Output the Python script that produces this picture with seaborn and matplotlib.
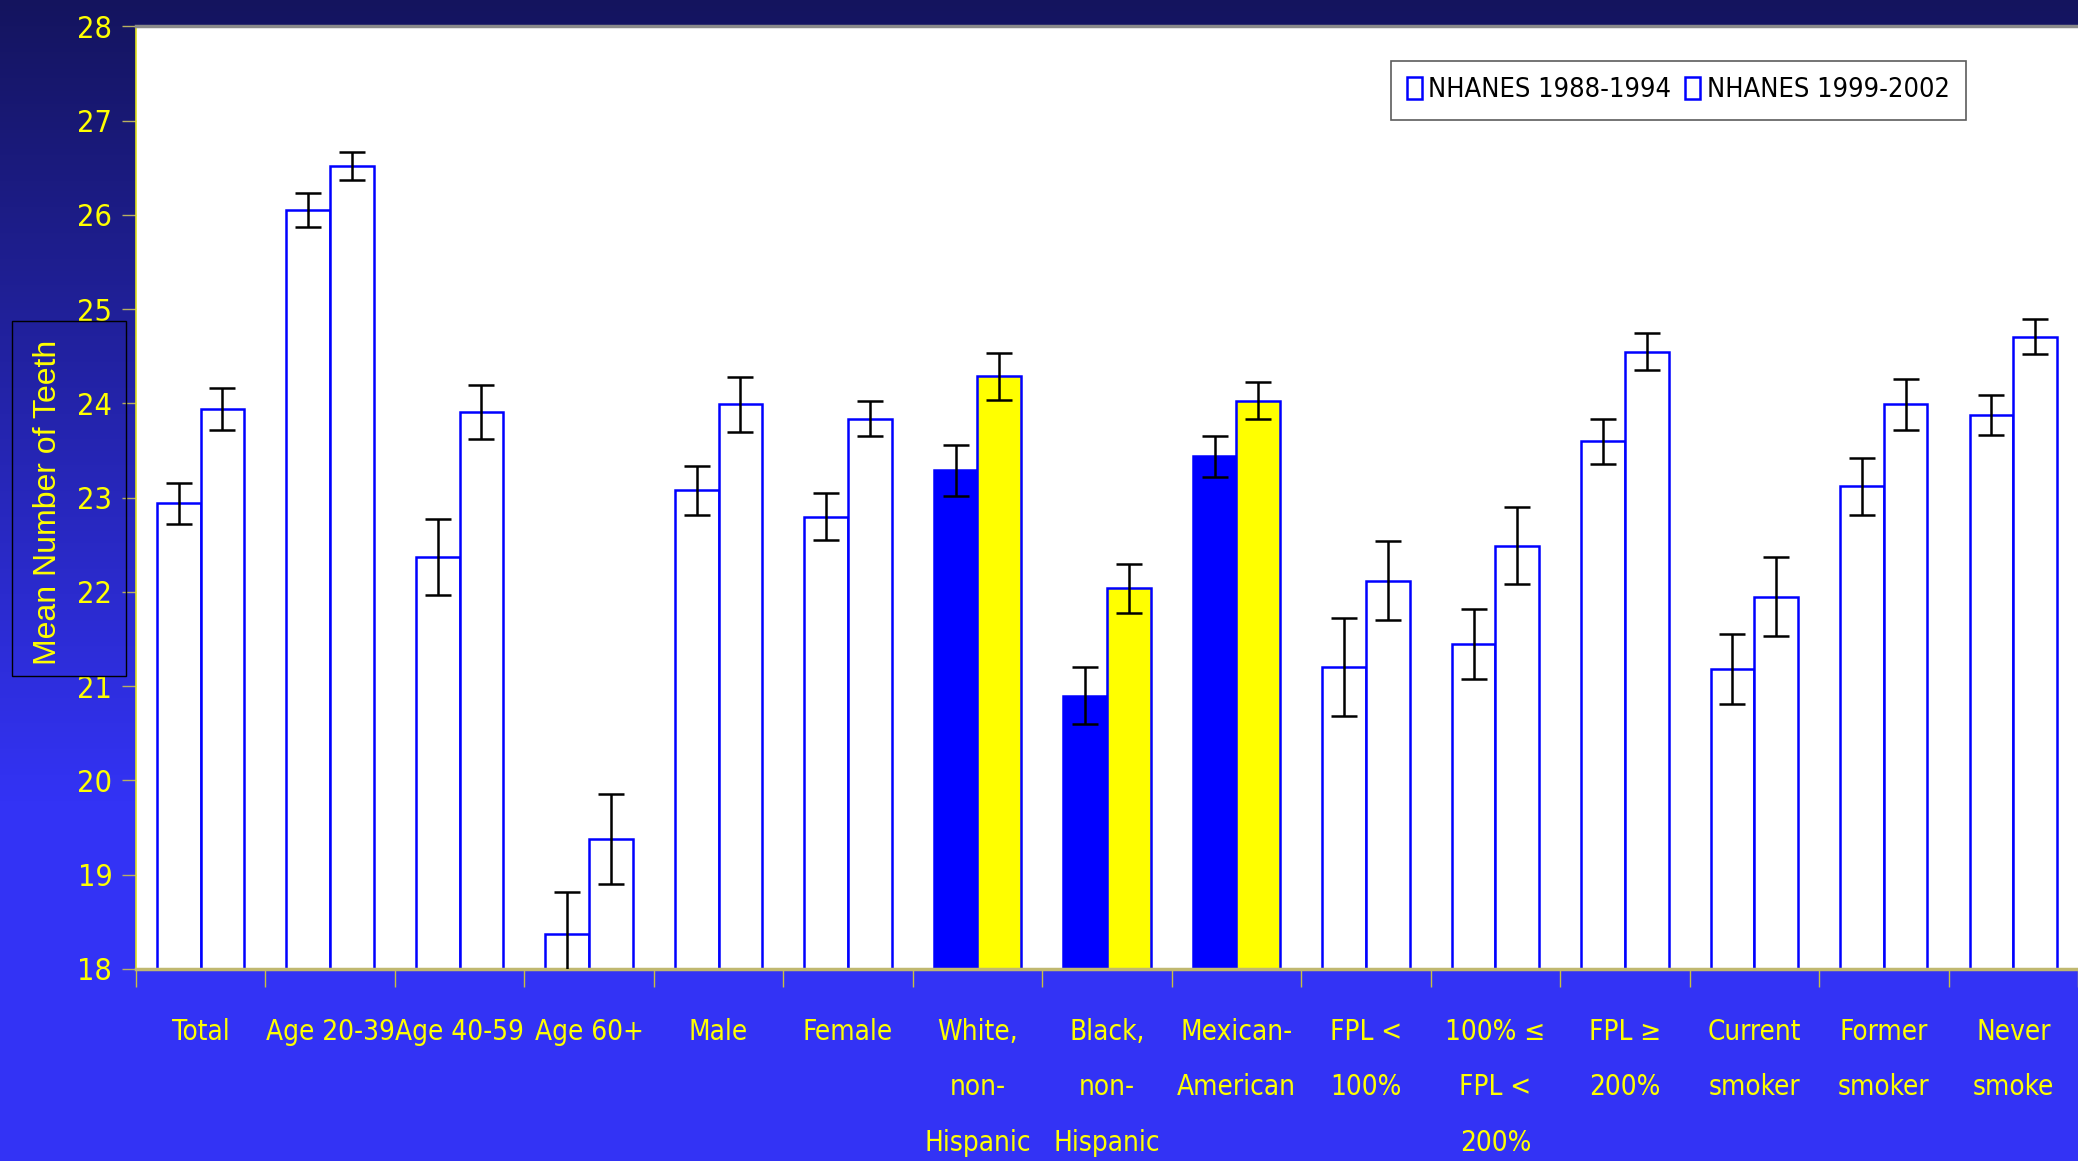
import numpy as np
import pandas as pd
import matplotlib
matplotlib.use("Agg")
import matplotlib.pyplot as plt
import matplotlib.font_manager as fm
from matplotlib.patches import Patch, Rectangle
import seaborn as sns

# data
groups = ['Total', 'Age 20-39', 'Age 40-59', 'Age 60+', 'Male', 'Female',
          'White, non-Hispanic', 'Black, non-Hispanic', 'Mexican-American',
          'FPL < 100%', '100% ≤ FPL < 200%', 'FPL ≥ 200%',
          'Current smoker', 'Former smoker', 'Never smoke']
tick_labels = ['Total', 'Age 20-39', 'Age 40-59', 'Age 60+', 'Male', 'Female',
               'White,\nnon-\nHispanic', 'Black,\nnon-\nHispanic', 'Mexican-\nAmerican',
               'FPL <\n100%', '100% ≤\nFPL <\n200%', 'FPL ≥\n200%',
               'Current\nsmoker', 'Former\nsmoker', 'Never\nsmoke']
teeth_8894 = [22.94, 26.05, 22.37, 18.37, 23.08, 22.80, 23.29, 20.90, 23.44,
              21.20, 21.45, 23.60, 21.18, 23.12, 23.88]
err_8894 = [0.22, 0.18, 0.40, 0.45, 0.26, 0.25, 0.27, 0.30, 0.22,
            0.52, 0.37, 0.24, 0.37, 0.30, 0.21]
teeth_9902 = [23.94, 26.52, 23.91, 19.38, 23.99, 23.84, 24.29, 22.04, 24.03,
              22.12, 22.49, 24.55, 21.95, 23.99, 24.71]
err_9902 = [0.22, 0.15, 0.29, 0.48, 0.29, 0.19, 0.25, 0.26, 0.20,
            0.42, 0.41, 0.20, 0.42, 0.27, 0.19]
surveys = ['NHANES 1988-1994', 'NHANES 1999-2002']
highlight = ['White, non-Hispanic', 'Black, non-Hispanic', 'Mexican-American']

df = pd.DataFrame({
    'group': groups * 2,
    'teeth': teeth_8894 + teeth_9902,
    'survey': [surveys[0]] * len(groups) + [surveys[1]] * len(groups),
})

# look for a narrow sans face, else shrink the regular one
narrow = None
for f in fm.fontManager.ttflist:
    if ('Narrow' in f.name or 'Condensed' in f.name or 'condensed' in str(f.stretch)) \
            and f.style == 'normal' and f.weight in (400, 'normal', 'regular'):
        narrow = f
        break
if narrow is not None:
    fam = narrow.name
    stretch = narrow.stretch
    fs_x, fs_y, fs_leg, lsp = 20, 22, 19.5, 2.25
else:
    fam = 'Liberation Sans'
    stretch = 'normal'
    fs_x, fs_y, fs_leg, lsp = 19.5, 22, 19.5, 2.4
plt.rcParams['font.family'] = [fam, 'DejaVu Sans']
plt.rcParams['font.stretch'] = stretch

fig = plt.figure(figsize=(20.78, 11.61), dpi=100)

# gradient background
bg = fig.add_axes([0, 0, 1, 1], zorder=-1)
top = np.array([0x14, 0x14, 0x5e]) / 255
bot = np.array([0x33, 0x33, 0xf5]) / 255
t = np.clip(np.linspace(0, 1, 1161) / 0.69, 0, 1)[:, None]
grad = (top * (1 - t) + bot * t)[:, None, :]
bg.imshow(grad, aspect='auto', extent=[0, 1, 0, 1])
bg.axis('off')

ax = fig.add_axes([0.0654, 0.1654, 0.9346, 0.8118])
ax.set_facecolor('white')

sns.barplot(data=df, x='group', y='teeth', hue='survey', order=groups,
            hue_order=surveys, errorbar=None, width=0.675, ax=ax,
            edgecolor='blue', linewidth=1.8, legend=False)

errs = [err_8894, err_9902]
fills = ['blue', 'yellow']
bar_sets = list(ax.containers[:2])
for k, cont in enumerate(bar_sets):
    xs, ys = [], []
    for i, bar in enumerate(cont):
        bar.set_facecolor(fills[k] if groups[i] in highlight else 'white')
        bar.set_edgecolor('blue')
        xs.append(bar.get_x() + bar.get_width() / 2)
        ys.append(bar.get_height())
    ax.errorbar(xs, ys, yerr=errs[k], fmt='none', ecolor='black',
                elinewidth=1.8, capsize=9.5, capthick=1.8, zorder=4)

ax.set_ylim(18, 28)
ax.set_xlim(-0.5, len(groups) - 0.5)
ax.set_yticks(range(18, 29))
ax.set_xticks(np.arange(-0.5, len(groups), 1))
ax.set_xticklabels([])
ax.set_xticks(np.arange(len(groups)), tick_labels, minor=True)
ax.tick_params(axis='x', which='major', length=13, width=1, color='#c8c040', direction='out')
ax.tick_params(axis='x', which='minor', length=0, pad=35, labelsize=fs_x,
               labelcolor='yellow')
ax.tick_params(axis='y', length=10, width=1, color='#b8b060', pad=7,
               labelsize=fs_y, labelcolor='yellow')
for lab in ax.get_xticklabels(minor=True):
    lab.set_linespacing(lsp)
ax.set_xlabel('')
ax.set_ylabel('')

ax.spines['right'].set_visible(False)
ax.spines['top'].set_color('#8a8a8a')
ax.spines['top'].set_linewidth(2.5)
ax.spines['left'].set_color('#e0e020')
ax.spines['left'].set_linewidth(1.2)
ax.spines['bottom'].set_color('#c0b870')
ax.spines['bottom'].set_linewidth(2.5)

handles = [Patch(facecolor='white', edgecolor='blue', linewidth=1.8, label=s) for s in surveys]
leg = ax.legend(handles=handles, ncol=2, loc='upper right',
                bbox_to_anchor=(0.9423, 0.9634), fontsize=fs_leg, frameon=True,
                fancybox=False, handlelength=0.55, handleheight=0.85,
                handletextpad=0.25, columnspacing=0.5, borderpad=0.6,
                borderaxespad=0)
leg.get_frame().set_edgecolor('#333333')
leg.get_frame().set_linewidth(1.2)

# y axis title in its box
fig.patches.append(Rectangle((0.00577, 0.4177), 0.0549, 0.3058, transform=fig.transFigure,
                             fill=False, edgecolor='black', linewidth=1))
fig.text(0.0231, 0.5676, 'Mean Number of Teeth', rotation=90, color='yellow',
         fontsize=23, ha='center', va='center', family=['Liberation Sans', 'DejaVu Sans'],
         fontstretch='normal')

fig.savefig('out.png', dpi=100)
